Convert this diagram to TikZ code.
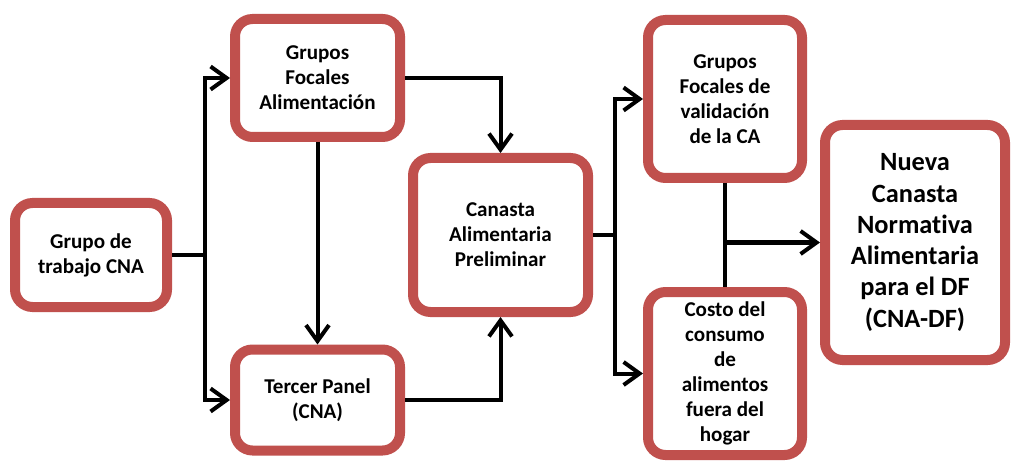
\documentclass[tikz,border=0pt]{standalone}
\usepackage{fontspec}
\setmainfont[Ligatures=NoCommon]{Carlito}
\usepackage{xcolor}
\usepackage{tikz}
\usetikzlibrary{arrows.meta, positioning, calc}
\definecolor{boxred}{HTML}{C0504D}

\begin{document}
\begin{tikzpicture}[
  box/.style={rectangle, rounded corners=0.35cm, draw=boxred, fill=white,
              line width=0.2cm, align=center,
              font=\fontsize{12}{14.2}\selectfont\bfseries},
  bigbox/.style={box, font=\fontsize{15}{17.8}\selectfont\bfseries},
  line/.style={line width=0.08cm, draw=black},
  arrow/.style={line, -{Straight Barb[length=3.2mm, width=4.6mm]}}
]
  \useasboundingbox (0,0) rectangle (20.26,9.26);
  \node[box, minimum width=3.04cm, minimum height=2.08cm] (grupo) at (1.82,4.16) {Grupo de\\trabajo CNA};
  \node[box, minimum width=3.3cm, minimum height=2.36cm] (focales) at (6.35,7.70) {Grupos\\Focales\\Alimentación};
  \node[box, minimum width=3.3cm, minimum height=2.02cm] (tercer) at (6.35,1.26) {Tercer Panel\\(CNA)};
  \node[box, minimum width=3.5cm, minimum height=3.08cm] (canasta) at (10.01,4.56) {Canasta\\Alimentaria\\Preliminar};
  \node[box, minimum width=3.08cm, minimum height=3.16cm] (valid) at (14.5,7.28) {Grupos\\Focales de\\validación\\de la CA};
  \node[box, minimum width=3.08cm, minimum height=3.26cm] (costo) at (14.5,1.79) {Costo del\\consumo\\de\\alimentos\\fuera del\\hogar};
  \node[bigbox, minimum width=3.6cm, minimum height=4.7cm] (nueva) at (18.3,4.41) {Nueva\\Canasta\\Normativa\\Alimentaria\\para el DF\\(CNA-DF)};
  % junctions
  \coordinate (jl) at (4.10,4.16);
  \coordinate (jr) at (12.30,4.56);
  \draw[line] (grupo.east) -- (jl);
  \draw[arrow] (jl) |- (focales.west);
  \draw[arrow] (jl) |- (tercer.west);
  \draw[arrow] (focales.east) -| (canasta.north);
  \draw[arrow] (focales.south) -- (tercer.north);
  \draw[arrow] (tercer.east) -| (canasta.south);
  \draw[line] (canasta.east) -- (jr);
  \draw[arrow] (jr) |- (valid.west);
  \draw[arrow] (jr) |- (costo.west);
  \draw[line] (valid.south) -- (costo.north);
  \draw[arrow] (valid.south |- nueva.west) -- (nueva.west);
\end{tikzpicture}
\end{document}
